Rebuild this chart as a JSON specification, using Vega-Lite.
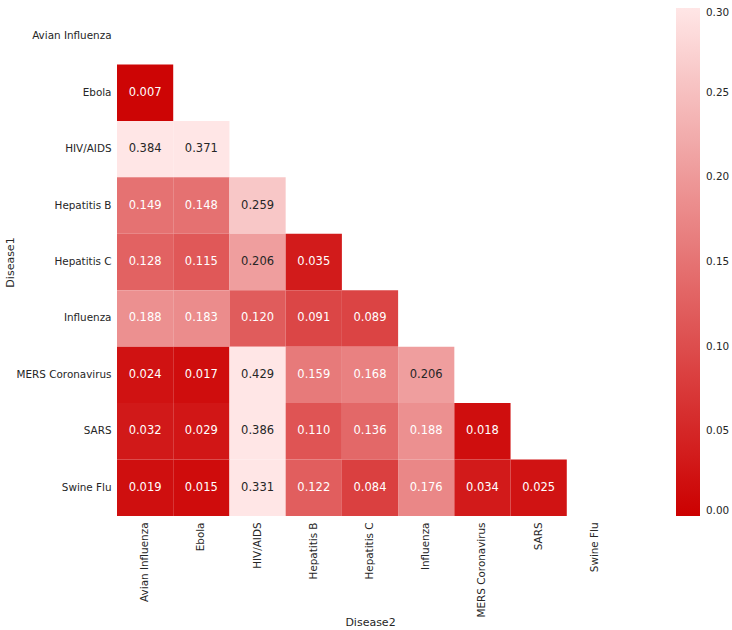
{
  "$schema": "https://vega.github.io/schema/vega-lite/v6.json",
  "width": 506,
  "height": 508,
  "autosize": {"type": "none"},
  "padding": {"left": 117, "top": 8, "right": 109, "bottom": 114},
  "background": "white",
  "config": {
    "view": {"stroke": null},
    "font": "DejaVu Sans"
  },
  "data": {
    "values": [
      {"Disease1": "Ebola", "Disease2": "Avian Influenza", "value": 0.007},
      {"Disease1": "HIV/AIDS", "Disease2": "Avian Influenza", "value": 0.384},
      {"Disease1": "HIV/AIDS", "Disease2": "Ebola", "value": 0.371},
      {"Disease1": "Hepatitis B", "Disease2": "Avian Influenza", "value": 0.149},
      {"Disease1": "Hepatitis B", "Disease2": "Ebola", "value": 0.148},
      {"Disease1": "Hepatitis B", "Disease2": "HIV/AIDS", "value": 0.259},
      {"Disease1": "Hepatitis C", "Disease2": "Avian Influenza", "value": 0.128},
      {"Disease1": "Hepatitis C", "Disease2": "Ebola", "value": 0.115},
      {"Disease1": "Hepatitis C", "Disease2": "HIV/AIDS", "value": 0.206},
      {"Disease1": "Hepatitis C", "Disease2": "Hepatitis B", "value": 0.035},
      {"Disease1": "Influenza", "Disease2": "Avian Influenza", "value": 0.188},
      {"Disease1": "Influenza", "Disease2": "Ebola", "value": 0.183},
      {"Disease1": "Influenza", "Disease2": "HIV/AIDS", "value": 0.120},
      {"Disease1": "Influenza", "Disease2": "Hepatitis B", "value": 0.091},
      {"Disease1": "Influenza", "Disease2": "Hepatitis C", "value": 0.089},
      {"Disease1": "MERS Coronavirus", "Disease2": "Avian Influenza", "value": 0.024},
      {"Disease1": "MERS Coronavirus", "Disease2": "Ebola", "value": 0.017},
      {"Disease1": "MERS Coronavirus", "Disease2": "HIV/AIDS", "value": 0.429},
      {"Disease1": "MERS Coronavirus", "Disease2": "Hepatitis B", "value": 0.159},
      {"Disease1": "MERS Coronavirus", "Disease2": "Hepatitis C", "value": 0.168},
      {"Disease1": "MERS Coronavirus", "Disease2": "Influenza", "value": 0.206},
      {"Disease1": "SARS", "Disease2": "Avian Influenza", "value": 0.032},
      {"Disease1": "SARS", "Disease2": "Ebola", "value": 0.029},
      {"Disease1": "SARS", "Disease2": "HIV/AIDS", "value": 0.386},
      {"Disease1": "SARS", "Disease2": "Hepatitis B", "value": 0.110},
      {"Disease1": "SARS", "Disease2": "Hepatitis C", "value": 0.136},
      {"Disease1": "SARS", "Disease2": "Influenza", "value": 0.188},
      {"Disease1": "SARS", "Disease2": "MERS Coronavirus", "value": 0.018},
      {"Disease1": "Swine Flu", "Disease2": "Avian Influenza", "value": 0.019},
      {"Disease1": "Swine Flu", "Disease2": "Ebola", "value": 0.015},
      {"Disease1": "Swine Flu", "Disease2": "HIV/AIDS", "value": 0.331},
      {"Disease1": "Swine Flu", "Disease2": "Hepatitis B", "value": 0.122},
      {"Disease1": "Swine Flu", "Disease2": "Hepatitis C", "value": 0.084},
      {"Disease1": "Swine Flu", "Disease2": "Influenza", "value": 0.176},
      {"Disease1": "Swine Flu", "Disease2": "MERS Coronavirus", "value": 0.034},
      {"Disease1": "Swine Flu", "Disease2": "SARS", "value": 0.025}
    ]
  },
  "encoding": {
    "x": {
      "field": "Disease2",
      "type": "nominal",
      "title": "Disease2",
      "scale": {
        "domain": ["Avian Influenza", "Ebola", "HIV/AIDS", "Hepatitis B", "Hepatitis C", "Influenza", "MERS Coronavirus", "SARS", "Swine Flu"],
        "paddingInner": 0,
        "paddingOuter": 0
      },
      "axis": {
        "labelAngle": 270,
        "labelFontSize": 10.4,
        "labelColor": "#262626",
        "titleFontSize": 11,
        "titleFontWeight": "normal",
        "titleColor": "#262626",
        "ticks": false,
        "domain": false,
        "labelPadding": 6,
        "titlePadding": 0
      }
    },
    "y": {
      "field": "Disease1",
      "type": "nominal",
      "title": "Disease1",
      "scale": {
        "domain": ["Avian Influenza", "Ebola", "HIV/AIDS", "Hepatitis B", "Hepatitis C", "Influenza", "MERS Coronavirus", "SARS", "Swine Flu"],
        "paddingInner": 0,
        "paddingOuter": 0
      },
      "axis": {
        "labelFontSize": 10.4,
        "labelColor": "#262626",
        "titleFontSize": 11,
        "titleFontWeight": "normal",
        "titleColor": "#262626",
        "ticks": false,
        "domain": false,
        "labelPadding": 6,
        "titlePadding": 1
      }
    }
  },
  "layer": [
    {
      "mark": {"type": "rect"},
      "encoding": {
        "color": {
          "field": "value",
          "type": "quantitative",
          "title": null,
          "scale": {"domain": [0, 0.3], "range": ["#cc0000", "#ffe6e6"], "clamp": true, "interpolate": "rgb"},
          "legend": {
            "gradientLength": 508,
            "gradientThickness": 24,
            "offset": 53,
            "values": [0, 0.05, 0.1, 0.15, 0.2, 0.25, 0.3],
            "format": ".2f",
            "labelFontSize": 10.4,
            "labelColor": "#262626",
            "labelOffset": 6,
            "gradientStrokeWidth": 0
          }
        }
      }
    },
    {
      "mark": {"type": "text", "fontSize": 11.5},
      "encoding": {
        "text": {"field": "value", "type": "quantitative", "format": ".3f"},
        "color": {
          "condition": {"test": "datum.value >= 0.2", "value": "#262626"},
          "value": "#ffffff"
        }
      }
    }
  ]
}
